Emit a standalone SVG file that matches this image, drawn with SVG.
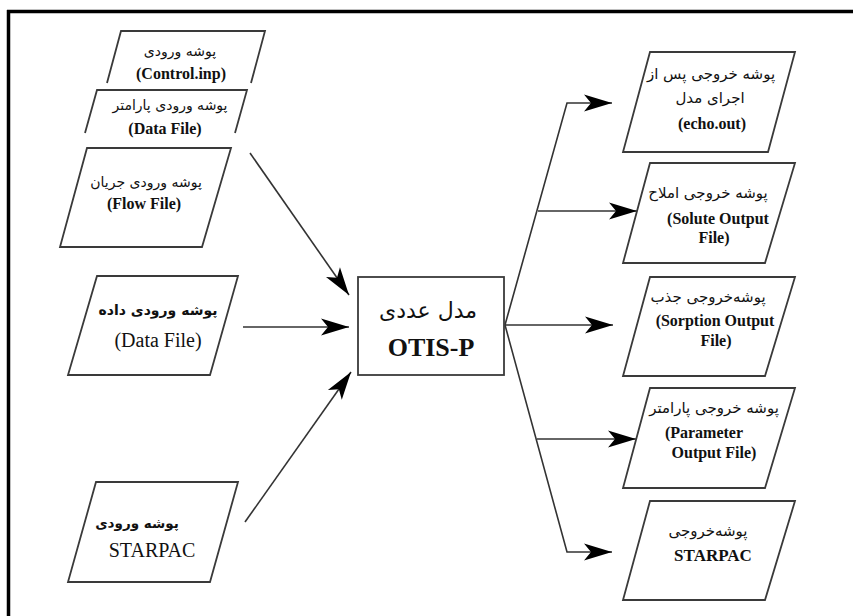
<svg xmlns="http://www.w3.org/2000/svg" width="853" height="616" viewBox="0 0 853 616">
<style>
.node{fill:#fff;stroke:#3a3a3a;stroke-width:1.8;stroke-linejoin:miter}
.open{fill:none;stroke:#3a3a3a;stroke-width:1.8}
.con{fill:none;stroke:#333;stroke-width:1.6}
.fa{font-family:"DejaVu Sans","Noto Sans",sans-serif;fill:#111;text-anchor:middle}
.en{font-family:"Liberation Serif","Times New Roman",serif;fill:#111;text-anchor:middle}
.b{font-weight:bold}
</style>
<defs>
<marker id="ah" viewBox="-1 -10 30 20" refX="28" refY="0" markerWidth="30" markerHeight="20" markerUnits="userSpaceOnUse" orient="auto">
<path d="M0,-8.5 L28,0 L0,8.5 L7,0 Z" fill="#000"/>
</marker>
</defs>
<rect width="853" height="616" fill="#fff"/>
<g id="frame">
<line x1="8.5" y1="10" x2="8.5" y2="616" stroke="#000" stroke-width="3.5"/>
<line x1="7" y1="11.5" x2="853" y2="11.5" stroke="#000" stroke-width="3.5"/>
</g>
<g id="connectors">
<line class="con" x1="250" y1="153" x2="349" y2="295" marker-end="url(#ah)"/>
<line class="con" x1="243" y1="327" x2="349" y2="327" marker-end="url(#ah)"/>
<line class="con" x1="245" y1="522" x2="351" y2="372" marker-end="url(#ah)"/>
<polyline class="con" points="505,325 567,103 612,103" marker-end="url(#ah)"/>
<line class="con" x1="538" y1="211" x2="637" y2="211" marker-end="url(#ah)"/>
<line class="con" x1="505" y1="325" x2="613" y2="325" marker-end="url(#ah)"/>
<polyline class="con" points="505,325 567,552 612,552" marker-end="url(#ah)"/>
<line class="con" x1="537" y1="439" x2="636" y2="439" marker-end="url(#ah)"/>
</g>
<g id="in-control">
<polyline class="open" points="107,83 121,31 265,31 251,83"/>
<text class="fa" x="180" y="56" font-size="14">پوشه ورودی</text>
<text class="en b" x="181" y="79" font-size="16">(Control.inp)</text>
</g>
<g id="in-param">
<polyline class="open" points="85,133 97,90 247,90 235,133"/>
<text class="fa" x="170" y="110" font-size="14">پوشه ورودی پارامتر</text>
<text class="en b" x="165" y="134" font-size="16">(Data File)</text>
</g>
<g id="in-flow">
<polygon class="node" points="87,148 231,148 202,247 60,247"/>
<text class="fa" x="146" y="187" font-size="14">پوشه ورودی جریان</text>
<text class="en b" x="144" y="209" font-size="16">(Flow File)</text>
</g>
<g id="in-data">
<polygon class="node" points="97,276 238,276 210,375 68,375"/>
<text class="fa b" x="158" y="315" font-size="14">پوشه ورودی داده</text>
<text class="en" x="158" y="347" font-size="20">(Data File)</text>
</g>
<g id="in-starpac">
<polygon class="node" points="96,482 238,482 210,582 68,582"/>
<text class="fa b" x="137" y="528" font-size="13.5">پوشه ورودی</text>
<text class="en" x="152" y="557" font-size="20">STARPAC</text>
</g>
<g id="model">
<rect class="node" x="358" y="277" width="146" height="98"/>
<text class="fa" x="428" y="318" font-size="22">مدل عددی</text>
<text class="en b" x="431" y="356" font-size="26">OTIS-P</text>
</g>
<g id="out-echo">
<polygon class="node" points="650,52 795,52 768,152 623,152"/>
<text class="fa" x="711" y="79" font-size="15">پوشه خروجی پس از</text>
<text class="fa" x="710" y="103" font-size="15">اجرای مدل</text>
<text class="en b" x="712" y="129" font-size="16">(echo.out)</text>
</g>
<g id="out-solute">
<polygon class="node" points="650,163 795,163 765,263 623,263"/>
<text class="fa" x="708" y="198" font-size="15">پوشه خروجی املاح</text>
<text class="en b" x="718" y="224" font-size="16">(Solute Output</text>
<text class="en b" x="714" y="243" font-size="16">File)</text>
</g>
<g id="out-sorption">
<polygon class="node" points="650,277 795,277 765,376 623,376"/>
<text class="fa" x="708" y="302" font-size="15">پوشه‌خروجی جذب</text>
<text class="en b" x="715" y="326" font-size="16">(Sorption Output</text>
<text class="en b" x="716" y="346" font-size="16">File)</text>
</g>
<g id="out-param">
<polygon class="node" points="650,388 795,388 765,488 623,488"/>
<text class="fa" x="714" y="413" font-size="15">پوشه خروجی پارامتر</text>
<text class="en b" x="704" y="438" font-size="16">(Parameter</text>
<text class="en b" x="714" y="458" font-size="16">Output File)</text>
</g>
<g id="out-starpac">
<polygon class="node" points="650,501 795,501 765,600 623,600"/>
<text class="fa" x="708" y="536" font-size="15">پوشه‌خروجی</text>
<text class="en b" x="713" y="561" font-size="17">STARPAC</text>
</g>
</svg>
